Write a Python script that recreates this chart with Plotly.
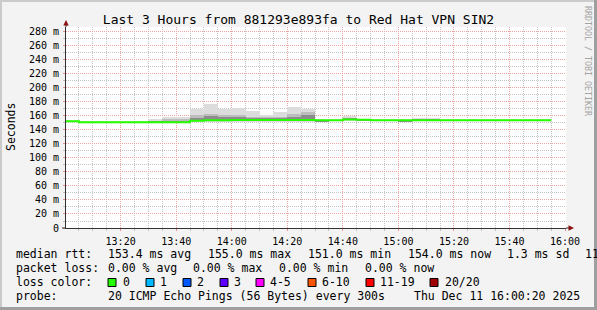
import plotly.graph_objects as go
import pandas as pd

# ---------------- data ----------------
day = "2025-12-11"
step_start = ["13:00", "13:05", "13:10", "13:15", "13:20", "13:25", "13:30", "13:35",
              "13:40", "13:45", "13:50", "13:55", "14:00", "14:05", "14:10", "14:15",
              "14:20", "14:25", "14:30", "14:35", "14:40", "14:45", "14:50", "14:55",
              "15:00", "15:05", "15:10", "15:15", "15:20", "15:25", "15:30", "15:35",
              "15:40", "15:45", "15:50"]
last_end = "15:55"

median_rtt = [152.5, 151, 151, 151, 151, 151, 151, 151, 151, 153, 154, 154,
              154.3, 154.3, 154.3, 154.3, 154.3, 154.3, 154, 154, 155, 154.6,
              154, 154, 154, 154, 154, 154, 154, 154, 154, 154, 154, 154, 154]

# outer smoke (lightest) limits
smoke_max = [153, 152, 152, 152, 152, 153, 156, 158.5, 158.5, 170, 177.5, 170,
             171, 166.5, 162, 165, 172.5, 170.5, 155, 154.5, 160, 155.5,
             154.5, 154.5, 155, 157.5, 157.5, 154.8, 154.8, 154.8, 154.8, 154.8,
             154.8, 154.8, 154.8]
smoke_min = [152, 150.3, 150.3, 150.3, 150.3, 150.3, 150.3, 150.3, 150.3, 151, 151, 151,
             151, 151, 151, 151, 151, 151, 151.3, 153, 153.5, 152.5,
             153, 153, 151.5, 153, 153, 153, 153, 153, 153, 153, 153, 153, 153]
# middle smoke band
mid_hi = [152.5, 151, 151, 151, 151, 151, 153, 155, 155, 161, 162.5, 161,
          161, 159, 158, 158.5, 163, 166, 154.5, 154, 157.5, 155,
          154, 154, 154.5, 156, 156, 154, 154, 154, 154, 154, 154, 154, 154]
mid_lo = [152, 150.5, 150.5, 150.5, 150.5, 150.5, 150.5, 150.5, 150.5, 152.5, 152.5, 152.5,
          152.5, 152.5, 152.5, 152.5, 152.5, 152.5, 151.5, 153.5, 154, 152.8,
          153.5, 153.5, 151.8, 153.5, 153.5, 153.5, 153.5, 153.5, 153.5, 153.5,
          153.5, 153.5, 153.5]
# inner (darkest) smoke band
inner_hi = [152.5, 151, 151, 151, 151, 151, 151.5, 153, 153, 157.5, 159.5, 158,
            158, 157, 156.5, 156.5, 159, 161, 154.3, 154, 156, 155,
            154, 154, 154.3, 155, 155, 154, 154, 154, 154, 154, 154, 154, 154]
inner_lo = [152.5, 151, 151, 151, 151, 151, 151, 151, 151, 153, 153, 153,
            153, 153, 153, 153, 153, 153, 151.5, 154, 155, 152.8,
            154, 154, 151.8, 154, 154, 154, 154, 154, 154, 154, 154, 154, 154]

y_ticks = [0, 20, 40, 60, 80, 100, 120, 140, 160, 180, 200, 220, 240, 260, 280]
y_tick_text = ["0", "20 m", "40 m", "60 m", "80 m", "100 m", "120 m", "140 m", "160 m",
               "180 m", "200 m", "220 m", "240 m", "260 m", "280 m"]

title_text = "Last 3 Hours from 881293e893fa to Red Hat VPN SIN2"
rtt_label = "median rtt:"
rtt_stats = ["153.4 ms avg", "155.0 ms max", "151.0 ms min", "154.0 ms now", "1.3 ms sd", "11"]
loss_label = "packet loss:"
loss_stats = ["0.00 % avg", "0.00 % max", "0.00 % min", "0.00 % now"]
color_label = "loss color:"
loss_names = ["0", "1", "2", "3", "4-5", "6-10", "11-19", "20/20"]
loss_colors = ["#26ff00", "#00b8ff", "#0059ff", "#5e00ff", "#ff00ff", "#ff5500", "#ff0000", "#a10000"]
probe_label = "probe:"
probe_text = "20 ICMP Echo Pings (56 Bytes) every 300s"
date_text = "Thu Dec 11 16:00:20 2025"
watermark = "RRDTOOL / TOBI OETIKER"

# ---------------- layout helpers (pixel -> paper) ----------------
W, H = 597, 310
PL, PR, PT, PB = 66, 566, 27, 228


def xp(px):
    return (px - PL) / (PR - PL)


def yp(py):
    return (PB - py) / (PB - PT)


MONO = "DejaVu Sans Mono"

starts = pd.to_datetime([f"{day} {t}" for t in step_start])
centers = starts + pd.Timedelta(minutes=2.5)
line_x = list(starts) + [pd.to_datetime(f"{day} {last_end}")]
line_y = median_rtt + [median_rtt[-1]]
STEP_MS = 5 * 60 * 1000

fig = go.Figure()


def band(lo, hi, color):
    fig.add_trace(go.Bar(
        x=centers, base=lo, y=[h - l for h, l in zip(hi, lo)], width=STEP_MS,
        marker=dict(color=color, line=dict(width=0)), hoverinfo="skip", showlegend=False))


band(smoke_min, smoke_max, "#dcdcdc")
band(mid_lo, mid_hi, "#bdbdbd")
band(inner_lo, inner_hi, "#8c8c8c")

fig.add_trace(go.Scatter(x=line_x, y=line_y, mode="lines", line=dict(color="#26ff00", width=2, shape="hv"),
                         hoverinfo="skip", showlegend=False))

major_grid = "#efa4a4"
minor_grid = "#c6c6c6"

fig.update_layout(
    width=W, height=H,
    margin=dict(l=PL, r=W - PR, t=PT, b=H - PB, pad=0),
    paper_bgcolor="#f3f3f3", plot_bgcolor="#ffffff",
    barmode="overlay", bargap=0,
    showlegend=False,
    font=dict(family=MONO, color="#000000"),
    title=dict(text=title_text, x=0.5, xref="container", xanchor="center",
               y=1 - 19 / H, yref="container", yanchor="middle",
               font=dict(family=MONO, size=13, color="#000000")),
    xaxis=dict(
        type="date",
        range=[f"{day} 13:00:20", f"{day} 16:00:20"],
        tick0=f"{day} 13:00", dtick=20 * 60 * 1000, tickformat="%H:%M",
        showgrid=True, gridcolor=major_grid, griddash="1px,1px", gridwidth=1,
        ticks="outside", ticklen=2, tickcolor="#e89090",
        minor=dict(dtick=STEP_MS, showgrid=True, gridcolor=minor_grid, griddash="1px,1px",
                   ticks="outside", ticklen=2, tickcolor="#c0c0c0"),
        showline=True, linecolor="#333333", linewidth=1, zeroline=False,
        tickfont=dict(family=MONO, size=10, color="#000000"),
        ticklabelstandoff=2,
    ),
    yaxis=dict(
        range=[0, 287],
        tickmode="array", tickvals=y_ticks, ticktext=y_tick_text,
        showgrid=True, gridcolor=major_grid, griddash="1px,1px", gridwidth=1,
        ticks="outside", ticklen=2, tickcolor="#e89090",
        minor=dict(dtick=10, tick0=0, showgrid=True, gridcolor=minor_grid, griddash="1px,1px",
                   ticks="outside", ticklen=2, tickcolor="#c0c0c0"),
        showline=True, linecolor="#333333", linewidth=1, zeroline=False,
        tickfont=dict(family=MONO, size=10, color="#000000"),
        ticklabelstandoff=2,
    ),
)

shapes = []
# axis extensions and arrows
shapes.append(dict(type="line", xref="paper", yref="paper", x0=0, x1=0, y0=1, y1=yp(22),
                   line=dict(color="#333333", width=1)))
shapes.append(dict(type="line", xref="paper", yref="paper", x0=1, x1=xp(570), y0=0, y1=0,
                   line=dict(color="#333333", width=1)))
shapes.append(dict(type="line", xref="paper", yref="paper", x0=xp(62), x1=0, y0=0, y1=0,
                   line=dict(color="#333333", width=1)))
shapes.append(dict(type="path", xref="paper", yref="paper",
                   path=f"M {xp(63.3)} {yp(25.5)} L {xp(68.7)} {yp(25.5)} L {xp(66)} {yp(20)} Z",
                   fillcolor="#8b1010", line=dict(width=0)))
shapes.append(dict(type="path", xref="paper", yref="paper",
                   path=f"M {xp(568.5)} {yp(225.3)} L {xp(568.5)} {yp(230.7)} L {xp(574)} {yp(228)} Z",
                   fillcolor="#8b1010", line=dict(width=0)))
# image frame (shade)
shapes.append(dict(type="rect", xref="paper", yref="paper", x0=xp(0), x1=xp(W), y0=yp(0), y1=yp(2),
                   fillcolor="#cbcbcb", line=dict(width=0)))
shapes.append(dict(type="rect", xref="paper", yref="paper", x0=xp(0), x1=xp(2), y0=yp(0), y1=yp(H),
                   fillcolor="#cbcbcb", line=dict(width=0)))
shapes.append(dict(type="rect", xref="paper", yref="paper", x0=xp(0), x1=xp(W), y0=yp(H - 3), y1=yp(H),
                   fillcolor="#9f9f9f", line=dict(width=0)))
shapes.append(dict(type="rect", xref="paper", yref="paper", x0=xp(W - 3), x1=xp(W), y0=yp(0), y1=yp(H),
                   fillcolor="#9f9f9f", line=dict(width=0)))

# loss colour boxes
box_x = [108, 146, 183, 220, 256, 308, 366, 430]
label_x = [122.6, 160, 197, 233.8, 270, 321.8, 380, 444.8]
for bx, c in zip(box_x, loss_colors):
    shapes.append(dict(type="rect", xref="paper", yref="paper", x0=xp(bx), x1=xp(bx + 8),
                       y0=yp(278.5), y1=yp(286.5), fillcolor=c, line=dict(color="#000000", width=1)))
fig.update_layout(shapes=shapes)

ann = []
LEG = 11.5


def txt(px, py, s, size=LEG, **kw):
    d = dict(xref="paper", yref="paper", x=xp(px), y=yp(py), text=s, showarrow=False,
             xanchor="left", yanchor="middle", borderpad=0,
             font=dict(family=MONO, size=size, color=kw.pop("color", "#000000")))
    d.update(kw)
    ann.append(d)


txt(11, 127, "Seconds", size=11.5, xanchor="center", textangle=-90)
txt(588, 61, watermark, size=8.3, xanchor="center", textangle=90, color="#a3a3a3")

txt(15, 254, rtt_label)
for px, s in zip([106.8, 206.5, 306.7, 406.5, 506.2, 583.5], rtt_stats):
    txt(px, 254, s)
txt(15, 268, loss_label)
for px, s in zip([106.8, 192.4, 278, 363.8], loss_stats):
    txt(px, 268, s)
txt(15, 282, color_label)
for px, s in zip(label_x, loss_names):
    txt(px - 1, 282, s)
txt(15, 296, probe_label)
txt(106.8, 296, probe_text)
txt(413, 296, date_text)

fig.update_layout(annotations=ann)
fig.write_html("out.html")
